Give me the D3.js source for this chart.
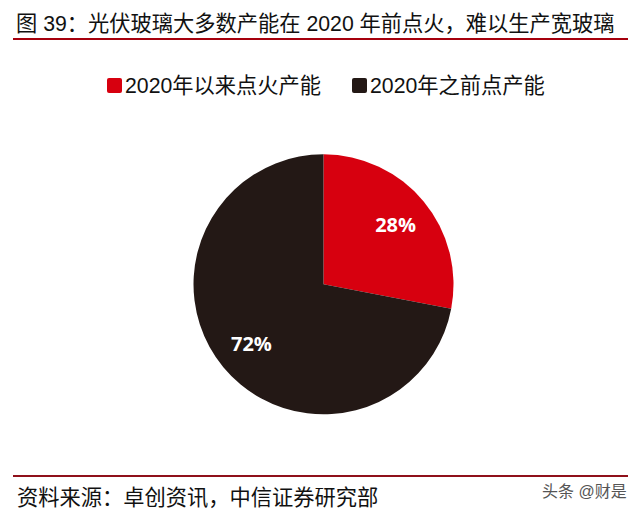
<!DOCTYPE html>
<html>
<head>
<meta charset="utf-8">
<script src="https://cdn.jsdelivr.net/npm/d3@7"></script>
<style>
  html, body { margin: 0; padding: 0; background: #fff; }
  text { font-family: "Liberation Sans", "Noto Sans CJK SC", sans-serif; }
  text.pct { font-family: "Open Sans", sans-serif; }
</style>
</head>
<body>
<svg id="chart" width="641" height="513" style="display:block"></svg>
<script>
const categories = ['2020年以来点火产能', '2020年之前点产能'];
const shares = [28, 72];
const sliceColors = ['#d7000f', '#231815'];
const titleText = '图 39：光伏玻璃大多数产能在 2020 年前点火，难以生产宽玻璃';
const sourceText = '资料来源：卓创资讯，中信证券研究部';
const watermarkText = '头条 @财是';

const svg = d3.select('#chart');

// Header and footer rules
svg.append('text').attr('x', 16).attr('y', 30.5)
  .attr('font-size', 21.25).attr('fill', '#111').text(titleText);
svg.append('line').attr('x1', 13).attr('x2', 628).attr('y1', 39).attr('y2', 39)
  .attr('stroke', '#a5000d').attr('stroke-width', 2);
svg.append('line').attr('x1', 13).attr('x2', 628).attr('y1', 476).attr('y2', 476)
  .attr('stroke', '#8f101a').attr('stroke-width', 2);
svg.append('text').attr('x', 17).attr('y', 505)
  .attr('font-size', 21.25).attr('fill', '#111').text(sourceText);
svg.append('text').attr('x', 542).attr('y', 497)
  .attr('font-size', 16).attr('fill', '#555').text(watermarkText);

// Legend
const legendX = d3.scaleOrdinal().domain(categories).range([107, 352]);
const legend = svg.append('g').selectAll('g').data(categories).join('g')
  .attr('transform', d => `translate(${legendX(d)},78)`);
legend.append('rect').attr('width', 15).attr('height', 15).attr('rx', 2)
  .attr('fill', (d, i) => sliceColors[i]);
legend.append('text').attr('x', 18).attr('y', 15)
  .attr('font-size', 21.25).attr('fill', '#111').text(d => d);

// Pie
const cx = 323.5, cy = 284.3, radius = 130;
const pie = d3.pie().sort(null);
const arc = d3.arc().innerRadius(0).outerRadius(radius);
const labelArc = d3.arc().innerRadius(radius * 0.72).outerRadius(radius * 0.72);
const slices = svg.append('g').attr('transform', `translate(${cx},${cy})`)
  .selectAll('g').data(pie(shares)).join('g');
slices.append('path').attr('d', arc).attr('fill', (d, i) => sliceColors[i]);
slices.append('text').attr('class', 'pct')
  .attr('transform', d => `translate(${labelArc.centroid(d)})`)
  .attr('text-anchor', 'middle').attr('dy', '0.37em')
  .attr('font-size', 20).attr('font-weight', 700).attr('fill', '#fff')
  .text(d => d.data + '%');
</script>
</body>
</html>
